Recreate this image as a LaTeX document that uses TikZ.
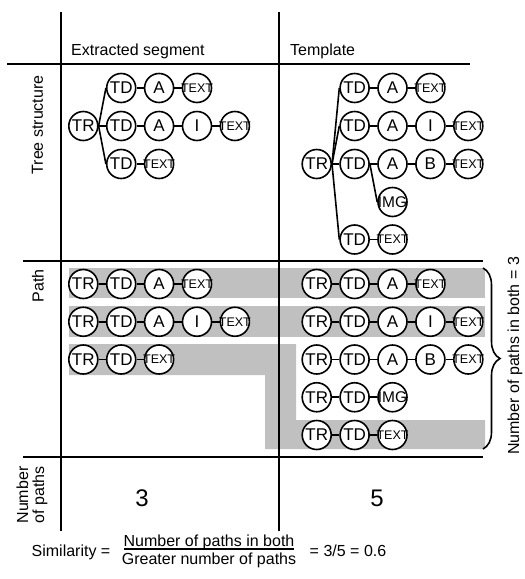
\documentclass[tikz,border=0pt]{standalone}
\usepackage{fontspec}
\setmainfont{Liberation Sans}
\usetikzlibrary{decorations.pathreplacing}
\definecolor{band}{HTML}{C0C0C0}
\newcommand\txtf{\fontsize{12.5}{12.5}\selectfont}
\newcommand\imgf{\fontsize{15.5}{15.5}\selectfont}
\newcommand\pathrow[4]{%
  \foreach \lab [count=\i] in {#4} {%
    \node[cn] (#1-\i) at ({#2+(\i-1)*37.9},#3) {\makebox[0pt]{\lab}};
    \ifnum\i>1
      \pgfmathtruncatemacro\j{\i-1}
      \draw[ln] (#1-\j) -- (#1-\i);
    \fi
  }%
}
\begin{document}
\begin{tikzpicture}[x=1pt,y=-1pt,
  cn/.style={circle,draw,line width=1.6pt,minimum size=29pt,inner sep=0pt,fill=white,font=\fontsize{17}{17}\selectfont},
  ln/.style={line width=1.6pt},
  gridline/.style={line width=2pt},
  lbl/.style={inner sep=0pt,font=\fontsize{16}{16}\selectfont}]
\useasboundingbox (0,0) rectangle (525,579);

% gray bands
\fill[band] (69,268) rectangle (485,298);
\fill[band] (69,306) rectangle (485,337);
\fill[band] (69,344) -- (296,344) -- (296,420) -- (485,420) -- (485,449) -- (265,449) -- (265,375) -- (69,375) -- cycle;

% grid
\draw[gridline] (61,12) -- (61,531);
\draw[gridline] (279,12) -- (279,531);
\draw[gridline] (7,64) -- (470,64);
\draw[gridline] (23,261) -- (483,261);
\draw[gridline] (23,457) -- (483,457);

% headers
\node[lbl,anchor=base west] (hdrA) at (71,55) {Extracted segment};
\node[lbl,anchor=base west] (hdrB) at (290,55) {Template};
\node[lbl,rotate=90] (lblTree) at (37.5,125) {Tree structure};
\node[lbl,rotate=90] (lblPath) at (38,286) {Path};
\node[lbl,rotate=90,align=center] (lblNum) at (32,495) {Number\\of paths};

% extracted tree
\node[cn] (eTR) at (83.3,126) {\makebox[0pt]{TR}};
\pathrow{eb1}{121.2}{88}{TD,A,{\txtf TEXT}}
\pathrow{eb2}{121.2}{126}{TD,A,I,{\txtf TEXT}}
\pathrow{eb3}{121.2}{164}{TD,{\txtf TEXT}}
\draw[ln] (eTR.east) -- (eb1-1.west);
\draw[ln] (eTR.east) -- (eb2-1.west);
\draw[ln] (eTR.east) -- (eb3-1.west);

% template tree
\node[cn] (tTR) at (316.7,164) {\makebox[0pt]{TR}};
\pathrow{tb1}{354.6}{88}{TD,A,{\txtf TEXT}}
\pathrow{tb2}{354.6}{126}{TD,A,I,{\txtf TEXT}}
\pathrow{tb3}{354.6}{164}{TD,A,B,{\txtf TEXT}}
\pathrow{tb5}{354.6}{239.5}{TD,{\txtf TEXT}}
\node[cn] (tIMG) at (392.5,202) {\makebox[0pt]{\imgf IMG}};
\draw[ln] (tTR.east) -- (tb1-1.west);
\draw[ln] (tTR.east) -- (tb2-1.west);
\draw[ln] (tTR.east) -- (tb3-1.west);
\draw[ln] (tTR.east) -- (tb5-1.west);
\draw[ln] (tb3-1.east) -- (tIMG.west);

% extracted paths
\pathrow{ep1}{83.3}{284}{TR,TD,A,{\txtf TEXT}}
\pathrow{ep2}{83.3}{321.75}{TR,TD,A,I,{\txtf TEXT}}
\pathrow{ep3}{83.3}{359.5}{TR,TD,{\txtf TEXT}}

% template paths
\pathrow{tp1}{316.7}{284}{TR,TD,A,{\txtf TEXT}}
\pathrow{tp2}{316.7}{321.75}{TR,TD,A,I,{\txtf TEXT}}
\pathrow{tp3}{316.7}{359.5}{TR,TD,A,B,{\txtf TEXT}}
\pathrow{tp4}{316.7}{397.25}{TR,TD,{\imgf IMG}}
\pathrow{tp5}{316.7}{435}{TR,TD,{\txtf TEXT}}

% brace
\coordinate (brTop) at (483,268);
\coordinate (brBot) at (483,449);
\draw[line width=1.6pt,decorate,decoration={brace,amplitude=17pt}] (brTop) -- (brBot);
\node[lbl,rotate=90] (brLbl) at (515,356) {Number of paths in both = 3};

% counts
\node[inner sep=0pt,font=\fontsize{24}{24}\selectfont] (cntA) at (142,498) {3};
\node[inner sep=0pt,font=\fontsize{24}{24}\selectfont] (cntB) at (377,498) {5};

% formula
\node[lbl,anchor=base] (sim) at (71,556) {Similarity =};
\node[lbl,anchor=base] (fnum) at (209,546) {Number of paths in both};
\node[lbl,anchor=base] (fden) at (209,564) {Greater number of paths};
\coordinate (barL) at (124,549);
\coordinate (barR) at (294,549);
\draw[line width=1.2pt] (barL) -- (barR);
\node[lbl,anchor=base] (res) at (348,556) {= 3/5 = 0.6};
\end{tikzpicture}
\end{document}
